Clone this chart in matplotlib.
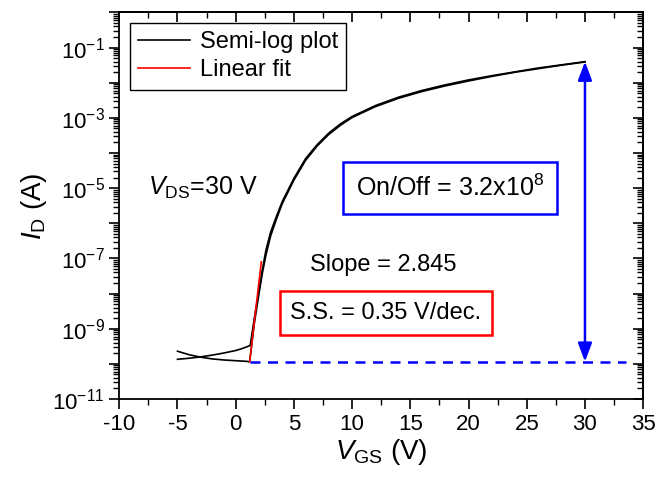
import numpy as np
import matplotlib.pyplot as plt
from matplotlib.ticker import FixedLocator, FuncFormatter, MultipleLocator, LogLocator, NullFormatter

plt.rcParams['font.family'] = ['Liberation Sans', 'DejaVu Sans']
plt.rcParams['mathtext.fontset'] = 'custom'
plt.rcParams['mathtext.rm'] = 'Liberation Sans'
plt.rcParams['mathtext.it'] = 'Liberation Sans:italic'
plt.rcParams['axes.unicode_minus'] = False

# forward sweep (V_GS, log10 I_D)
vg_fwd = [-5, -4, -3, -2, -1, 0, 0.5, 1.0, 1.25, 1.6, 2.0, 2.3, 2.6, 3.0, 3.5, 4.0,
          5.0, 6.0, 7.0, 8.0, 9.0, 10, 12, 14, 16, 18, 20, 22, 24, 26, 28, 30]
log_fwd = [-9.87, -9.84, -9.80, -9.75, -9.69, -9.62, -9.57, -9.51, -9.47, -8.7, -7.9, -7.3,
           -6.76, -6.25, -5.8, -5.38, -4.72, -4.16, -3.76, -3.43, -3.17, -2.96, -2.65,
           -2.41, -2.22, -2.06, -1.92, -1.8, -1.69, -1.58, -1.49, -1.40]
# reverse sweep
vg_rev = [30, 28, 26, 24, 22, 20, 18, 16, 14, 12, 10, 9.0, 8.0, 7.0, 6.0, 5.0, 4.0,
          3.5, 3.0, 2.6, 2.3, 2.0, 1.6, 1.2, 1.0, 0, -1, -2, -3, -4, -5]
log_rev = [-1.41, -1.50, -1.60, -1.70, -1.82, -1.95, -2.09, -2.25, -2.44, -2.68, -2.99,
           -3.21, -3.47, -3.80, -4.21, -4.77, -5.44, -5.88, -6.36, -6.9, -7.4, -8.0, -8.85,
           -9.94, -9.93, -9.91, -9.89, -9.86, -9.81, -9.74, -9.64]

fit_v = [1.2, 2.2]
fit_slope = 2.845
fit_log0 = -9.94
off_level = 1.15e-10
on_level = 0.04

fig = plt.figure(figsize=(6.59, 4.79), dpi=100)
ax = fig.add_axes([0.181, 0.167, 0.795, 0.807])

ax.plot(vg_fwd, 10 ** np.array(log_fwd), color='black', lw=1.2, label='Semi-log plot')
ax.plot(vg_rev, 10 ** np.array(log_rev), color='black', lw=1.2)
fv = np.array(fit_v)
ax.plot(fv, 10 ** (fit_log0 + fit_slope * (fv - fv[0])), color='red', lw=1.2, label='Linear fit')

ax.plot([1.2, 33.5], [off_level, off_level], color='blue', lw=1.8, ls=(0, (4, 3)))
ax.annotate('', xy=(30, on_level), xytext=(30, off_level),
            arrowprops=dict(arrowstyle='<|-|>,head_width=0.3,head_length=0.8', color='blue',
                            lw=1.8, mutation_scale=14, shrinkA=0, shrinkB=0))

ax.set_yscale('log')
ax.set_xlim(-10, 35)
ax.set_ylim(1e-11, 1)

ax.xaxis.set_major_locator(MultipleLocator(5))
ax.xaxis.set_minor_locator(MultipleLocator(2.5))
decades = [10.0 ** k for k in range(-11, 1)]
ax.yaxis.set_major_locator(FixedLocator(decades))
ax.yaxis.set_minor_locator(LogLocator(base=10, subs=np.arange(2, 10), numticks=30))
ax.yaxis.set_minor_formatter(NullFormatter())


def fmt(y, pos):
    k = int(round(np.log10(y)))
    if k % 2 == 0:
        return ''
    return r'$\mathregular{10^{%d}}$' % k


ax.yaxis.set_major_formatter(FuncFormatter(fmt))
ax.tick_params(which='major', direction='out', length=7, width=1.2, labelsize=16)
ax.tick_params(which='minor', direction='out', length=4, width=1.0)
for s in ax.spines.values():
    s.set_linewidth(1.3)

top = ax.secondary_xaxis('top')
top.xaxis.set_major_locator(MultipleLocator(5))
top.xaxis.set_minor_locator(MultipleLocator(2.5))
top.tick_params(which='major', direction='in', length=7, width=1.2, labeltop=False)
top.tick_params(which='minor', direction='in', length=4, width=1.0)
right = ax.secondary_yaxis('right')
right.yaxis.set_major_locator(FixedLocator(decades))
right.yaxis.set_minor_locator(LogLocator(base=10, subs=np.arange(2, 10), numticks=30))
right.tick_params(which='major', direction='in', length=7, width=1.2, labelright=False)
right.tick_params(which='minor', direction='in', length=4, width=1.0, labelright=False)
for s in list(top.spines.values()) + list(right.spines.values()):
    s.set_linewidth(1.3)

ax.set_xlabel(r'$V_{\mathregular{GS}}$ (V)', fontsize=20, labelpad=2)
ax.set_ylabel(r'$I_{\mathregular{D}}$ (A)', fontsize=20, labelpad=2)

ax.legend(loc='upper left', fontsize=17, frameon=True, fancybox=False, edgecolor='black',
          framealpha=1, borderpad=0.35, handlelength=2.2, handletextpad=0.4,
          borderaxespad=0.45, labelspacing=0.25)

ax.text(-7.5, 1e-5, r'$V_{\mathregular{DS}}$=30 V', fontsize=18, va='center', ha='left')
ax.text(12.7, 10 ** -7.2, 'Slope = 2.845', fontsize=17, va='center', ha='center')
ax.text(12.9, 10 ** -8.55, 'S.S. = 0.35 V/dec.', fontsize=17, va='center', ha='center',
        bbox=dict(boxstyle='square,pad=0.45', fc='white', ec='red', lw=1.8))
ax.text(18.4, 10 ** -5.0, r'On/Off = 3.2x10$^{\mathregular{8}}$', fontsize=18, va='center',
        ha='center', bbox=dict(boxstyle='square,pad=0.5', fc='white', ec='blue', lw=1.8))

fig.savefig('out.png', dpi=100)
